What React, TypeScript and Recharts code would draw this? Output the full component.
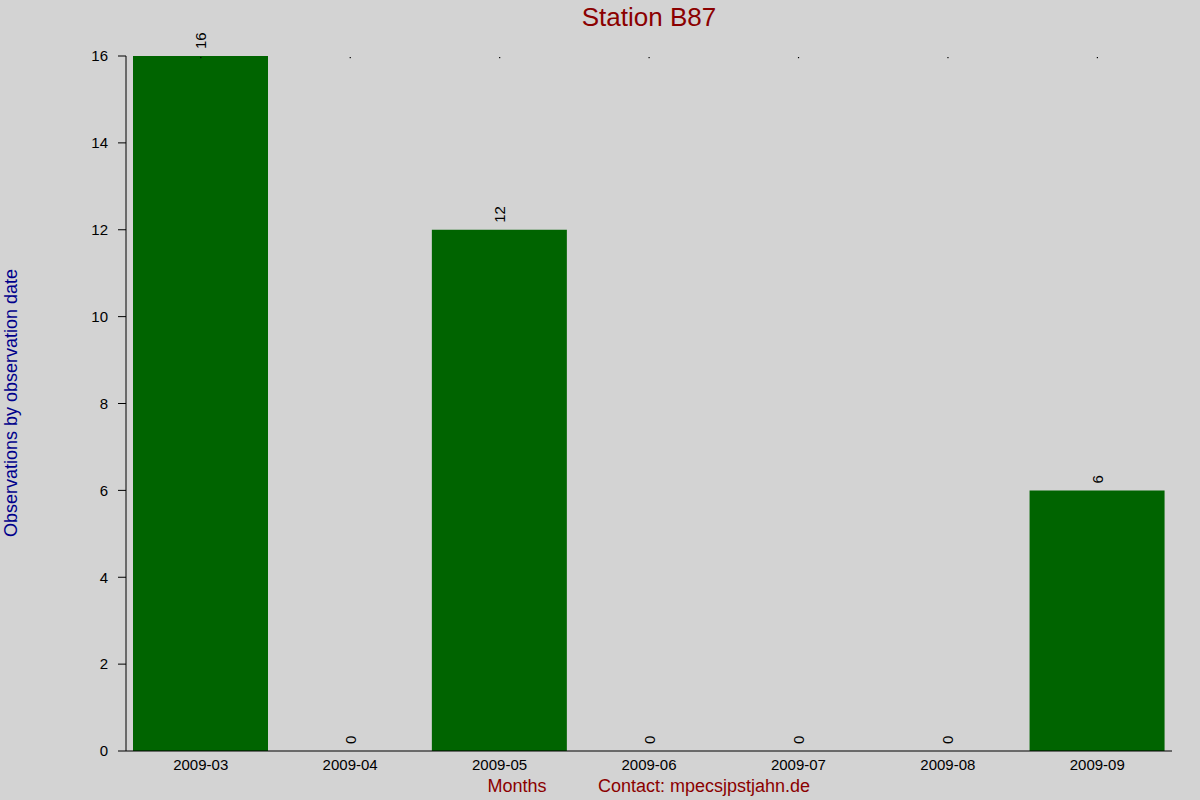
import { Bar, ComposedChart, Line, XAxis, YAxis } from "recharts";

const months = ["2009-03", "2009-04", "2009-05", "2009-06", "2009-07", "2009-08", "2009-09"];
const observations = [16, 0, 12, 0, 0, 0, 6];
const yTicks = [0, 2, 4, 6, 8, 10, 12, 14, 16];

const data = months.map((month, i) => ({ month, count: observations[i] }));

const FONT = "'Liberation Sans', Arial, Helvetica, sans-serif";

// value printed upright (rotated) just above each bar, zero bars included
function ValueLabel(props: any) {
  const x = Number(props.x);
  const y = Number(props.y) - 7;
  return (
    <text
      x={x}
      y={y}
      transform={`rotate(-90 ${x} ${y})`}
      textAnchor="start"
      dominantBaseline="central"
      fontSize={15}
      fontFamily={FONT}
      fill="#000"
    >
      {props.value}
    </text>
  );
}

function YTitle() {
  return (
    <text
      x={11}
      y={403}
      transform="rotate(-90 11 403)"
      textAnchor="middle"
      dominantBaseline="central"
      fontSize={18}
      fontFamily={FONT}
      fill="#00008B"
    >
      Observations by observation date
    </text>
  );
}

// tiny tick dot on the top edge of the plot for every month
const TopDot = (p: any) => (
  <rect x={Number(p.x) - 0.5} y={Number(p.y) + 1} width={1.2} height={1.2} fill="#000" />
);

export default function App() {
  return (
    <div
      style={{
        position: "absolute",
        left: 0,
        top: 0,
        width: 1200,
        height: 800,
        background: "#D3D3D3",
        fontFamily: FONT,
      }}
    >
      <ComposedChart
        width={1200}
        height={800}
        data={data}
        margin={{ top: 55, right: 28, bottom: 0, left: 0 }}
        barCategoryGap={7}
      >
        <XAxis
          dataKey="month"
          height={49}
          tickLine={false}
          tickSize={4}
          tickMargin={4}
          axisLine={{ stroke: "#000" }}
          tick={{ fill: "#000", fontSize: 15, fontFamily: FONT }}
        />
        <XAxis
          xAxisId="top"
          dataKey="month"
          orientation="top"
          height={1}
          axisLine={false}
          tickLine={false}
          tickSize={0}
          tickMargin={0}
          tick={TopDot}
        />
        <YAxis
          width={126}
          domain={[0, 16]}
          ticks={yTicks}
          interval={0}
          tickSize={8}
          tickMargin={10}
          axisLine={{ stroke: "#000" }}
          tickLine={{ stroke: "#000" }}
          tick={{ fill: "#000", fontSize: 15, fontFamily: FONT }}
          label={{ content: <YTitle /> }}
        />
        <Bar dataKey="count" fill="#006400" isAnimationActive={false} />
        <Line
          dataKey="count"
          stroke="none"
          dot={false}
          activeDot={false}
          label={<ValueLabel />}
          isAnimationActive={false}
        />
      </ComposedChart>
      <svg
        width={1200}
        height={800}
        style={{ position: "absolute", left: 0, top: 0, pointerEvents: "none" }}
      >
        <text x={649} y={26} textAnchor="middle" fontSize={26} fontFamily={FONT} fill="#8B0000">
          Station B87
        </text>
        <text x={517} y={792} textAnchor="middle" fontSize={18} fontFamily={FONT} fill="#8B0000">
          Months
        </text>
        <text
          x={598}
          y={792}
          fontSize={18}
          fontFamily={FONT}
          fill="#8B0000"
          textLength={212}
          lengthAdjust="spacingAndGlyphs"
        >
          Contact: mpecsjpstjahn.de
        </text>
      </svg>
    </div>
  );
}
